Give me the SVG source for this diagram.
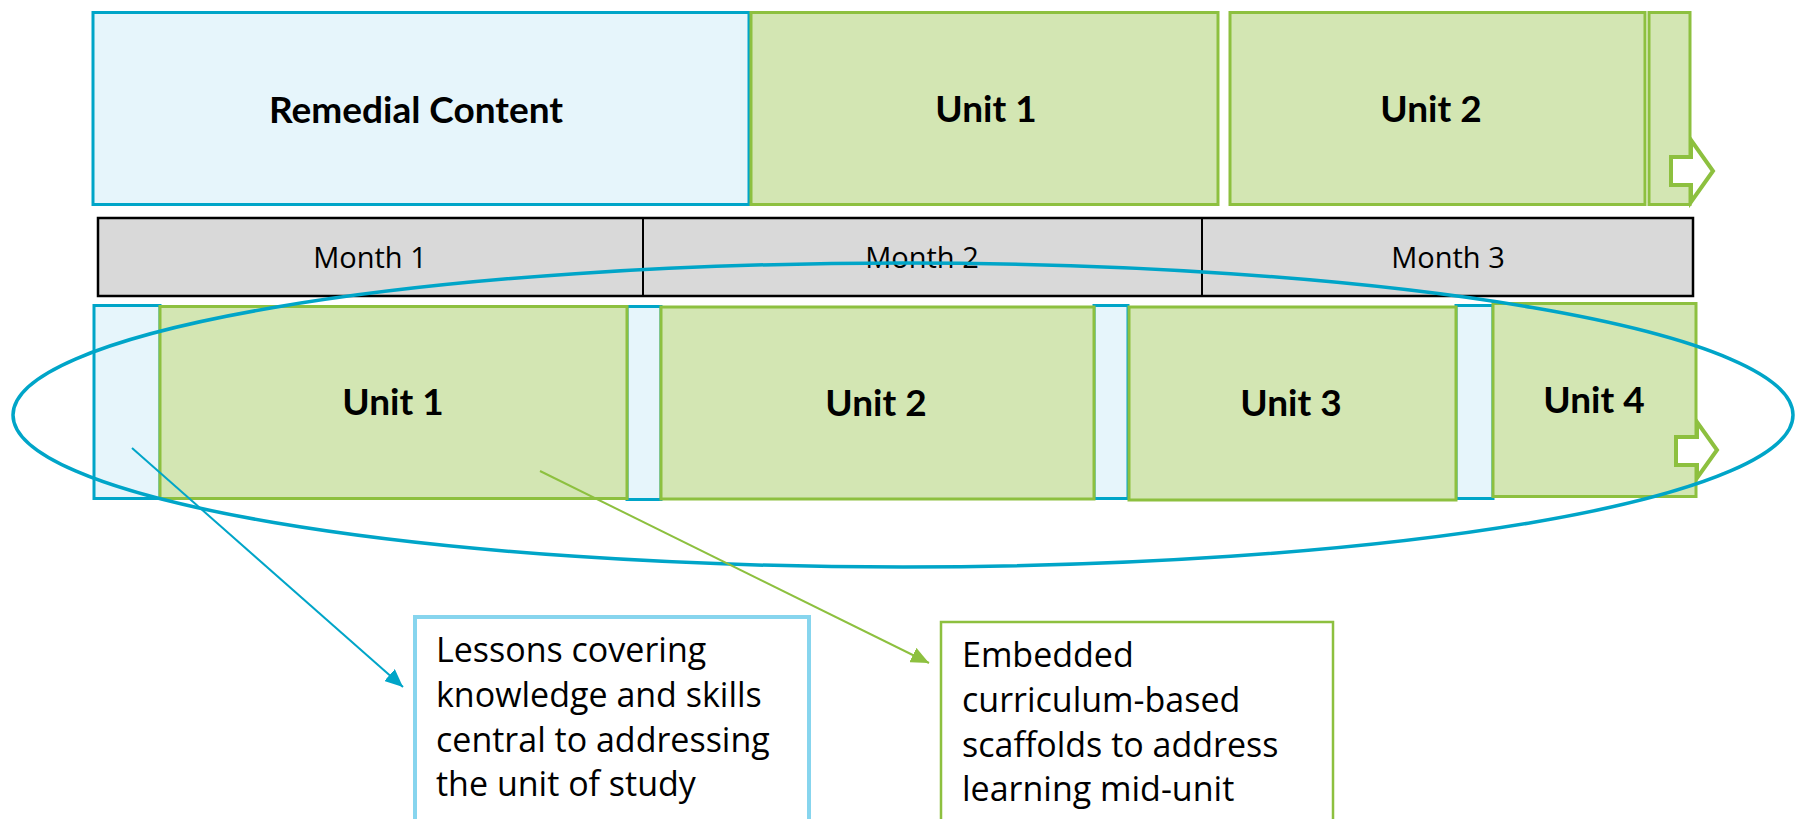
<svg xmlns="http://www.w3.org/2000/svg" width="1796" height="819" viewBox="0 0 1796 819">
<style>
.blue{fill:#E6F5FB;stroke:#00A5C8;stroke-width:3}
.green{fill:#D3E6B3;stroke:#8DC03F;stroke-width:3}
.month{fill:#D9D9D9;stroke:#000;stroke-width:2.5}
.arrow{fill:#fff;stroke:#8DC03F;stroke-width:4;stroke-linejoin:miter}
.lbl{font-family:Lato,"Open Sans","Liberation Sans",sans-serif;font-weight:bold;font-size:37px;fill:#000;text-anchor:middle}
.mlbl{font-family:"Open Sans",Lato,"Liberation Sans",sans-serif;font-size:29px;fill:#000;text-anchor:middle}
.note{font-family:"Open Sans",Lato,"Liberation Sans",sans-serif;font-size:34px;fill:#000}
</style>
<defs>
<marker id="ab" markerUnits="userSpaceOnUse" markerWidth="20" markerHeight="16" refX="18" refY="8" orient="auto"><path d="M0,0 L18,8 L0,16 z" fill="#00A5C8"/></marker>
<marker id="ag" markerUnits="userSpaceOnUse" markerWidth="20" markerHeight="16" refX="18" refY="8" orient="auto"><path d="M0,0 L18,8 L0,16 z" fill="#8DC03F"/></marker>
</defs>
<rect width="1796" height="819" fill="#fff"/>
<g id="remedial-top"><rect class="blue" x="93" y="12.5" width="656" height="192"/><text class="lbl" x="416" y="123">Remedial Content</text></g>
<g id="unit1-top"><rect class="green" x="751" y="12.5" width="467" height="192"/><text class="lbl" x="986" y="122">Unit 1</text></g>
<g id="unit2-top"><rect class="green" x="1230" y="12.5" width="415" height="192"/><text class="lbl" x="1431" y="122">Unit 2</text></g>
<g id="more-top"><rect class="green" x="1649" y="12.5" width="41" height="192"/><path class="arrow" d="M1671,157 L1691,157 L1691,140 L1713,171 L1691,202 L1691,185 L1671,185 z"/></g>
<g id="months">
<rect class="month" x="98" y="218" width="1595" height="78"/>
<line x1="643" y1="218" x2="643" y2="296" stroke="#000" stroke-width="2"/>
<line x1="1202" y1="218" x2="1202" y2="296" stroke="#000" stroke-width="2"/>
<text class="mlbl" x="370" y="268">Month 1</text>
<text class="mlbl" x="922" y="268">Month 2</text>
<text class="mlbl" x="1448" y="268">Month 3</text>
</g>
<g id="rem-1"><rect class="blue" x="94" y="305.5" width="66" height="193"/></g>
<g id="rem-2"><rect class="blue" x="627" y="306.5" width="34" height="193"/></g>
<g id="rem-3"><rect class="blue" x="1094" y="305.5" width="34" height="193"/></g>
<g id="rem-4"><rect class="blue" x="1456" y="305.5" width="37" height="193"/></g>
<g id="unit1"><rect class="green" x="160" y="306.5" width="467" height="192"/><text class="lbl" x="393" y="415">Unit 1</text></g>
<g id="unit2"><rect class="green" x="661" y="307" width="433" height="192"/><text class="lbl" x="876" y="416">Unit 2</text></g>
<g id="unit3"><rect class="green" x="1129" y="307" width="327" height="193"/><text class="lbl" x="1291" y="416">Unit 3</text></g>
<g id="unit4"><rect class="green" x="1493" y="303.5" width="203" height="193"/><text class="lbl" x="1594" y="413">Unit 4</text><path class="arrow" d="M1676,437 L1697,437 L1697,422 L1717,450 L1697,478 L1697,465 L1676,465 z"/></g>
<g id="highlight"><ellipse cx="903" cy="415" rx="890" ry="152" fill="none" stroke="#00A5C8" stroke-width="3.5"/></g>
<g id="connectors">
<line x1="132" y1="448" x2="403" y2="687" stroke="#00A5C8" stroke-width="2" marker-end="url(#ab)"/>
<line x1="540" y1="471" x2="929" y2="663" stroke="#8DC03F" stroke-width="2" marker-end="url(#ag)"/>
</g>
<g id="note-lessons"><rect x="415" y="617" width="394" height="205" fill="#fff" stroke="#87D5EE" stroke-width="4"/>
<text class="note" x="436" y="662">Lessons covering</text>
<text class="note" x="436" y="707">knowledge and skills</text>
<text class="note" x="436" y="752">central to addressing</text>
<text class="note" x="436" y="796">the unit of study</text></g>
<g id="note-scaffolds"><rect x="941" y="622" width="392" height="200" fill="#fff" stroke="#8DC03F" stroke-width="2.5"/>
<text class="note" x="962" y="667">Embedded</text>
<text class="note" x="962" y="712">curriculum-based</text>
<text class="note" x="962" y="757">scaffolds to address</text>
<text class="note" x="962" y="801">learning mid-unit</text></g>
</svg>
